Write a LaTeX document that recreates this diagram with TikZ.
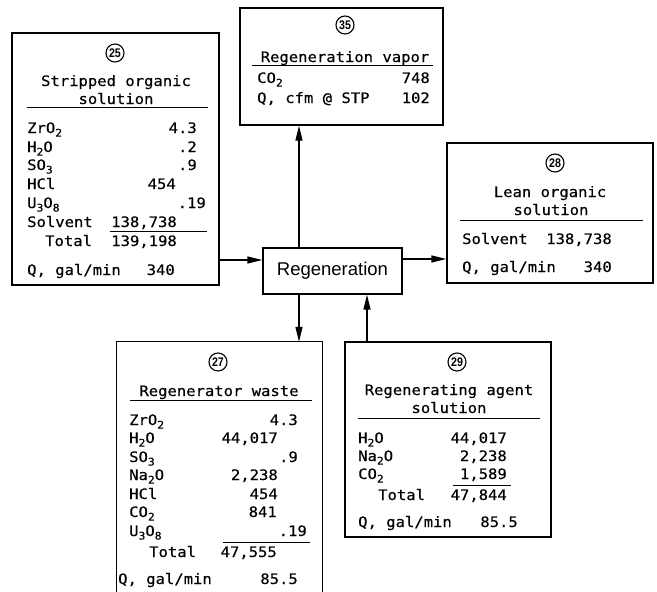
\documentclass[tikz,border=0pt]{standalone}
\usepackage{fontspec}
\usepackage{tikz}
\usetikzlibrary{arrows.meta, positioning, calc}
\newfontfamily\twfont[FakeStretch=1.08, FakeBold=0.4]{DejaVu Sans Mono}
\newfontfamily\labelfont{Liberation Sans}
\newfontfamily\numfont[FakeStretch=0.85]{Liberation Sans}
\newcommand{\chsub}[1]{\raisebox{-0.45ex}{\fontsize{10.5}{10}\selectfont #1}}

\begin{document}
\begin{tikzpicture}[x=1pt, y=-1pt,
    box/.style={draw, line width=1.3pt, inner sep=0pt},
    txt/.style={font=\twfont\fontsize{14.4}{16}\selectfont, inner sep=0pt, anchor=base west},
    val/.style={txt, anchor=base east},
    head/.style={txt, anchor=base},
    num/.style={circle, draw, line width=1.1pt, minimum size=18pt, inner sep=0pt, font=\numfont\fontsize{12.5}{12}\selectfont\bfseries},
    rl/.style={line width=1pt},
    arr/.style={line width=1.3pt, -{Triangle[length=15pt, width=7pt]}}]
    \useasboundingbox (0,0) rectangle (657,592);
    \node[box, minimum width=207pt, minimum height=252pt] (b25) at (115.5,159) {};
    \node[box, minimum width=203pt, minimum height=117pt] (b35) at (341.5,66.5) {};
    \node[box, minimum width=206pt, minimum height=140pt] (b28) at (550,213) {};
    \node[minimum width=205pt, minimum height=250pt, inner sep=0pt] (b27) at (219.5,467) {};
    \draw[line width=1.3pt] (b27.south west) -- (b27.north west) -- (b27.north east) -- (b27.south east);
    \node[box, minimum width=206pt, minimum height=195pt] (b29) at (448,439.5) {};
    \node[box, minimum width=139pt, minimum height=46pt, font=\labelfont\fontsize{18.5}{20}\selectfont] (regen) at (332.5,271) {Regeneration};
    % stream 25
    \node[num] (n25) at (115,53) {25};
    \node[head] (h25a) at (116,86) {Stripped organic};
    \node[head] (h25b) at (116,104) {solution};
    \draw[rl] (27,107) -- (208,107);
    \foreach \n/\v/\x/\y [count=\i] in {ZrO\chsub{2}/4.3/197/133, H\chsub{2}O/.2/197/152, SO\chsub{3}/.9/197/170, HCl/454/176/189, U\chsub{3}O\chsub{8}/.19/206/208, {Solvent/{138,738}/177/227}} {
        \node[txt] (r25n\i) at (27,\y) {\n};
        \node[val] (r25v\i) at (\x,\y) {\v};
    }
    \draw[rl] (110,231) -- (207,231);
    \node[txt] (t25n) at (45,246) {Total};
    \node[val] (t25v) at (177,246) {139,198};
    \node[txt] (q25n) at (27,275) {Q, gal/min};
    \node[val] (q25v) at (175,275) {340};
    % stream 35
    \node[num] (n35) at (345,25) {35};
    \node[head] (h35) at (345,62) {Regeneration vapor};
    \draw[rl] (252,65) -- (433,65);
    \node[txt] (r35n1) at (257,83) {CO\chsub{2}};
    \node[val] (r35v1) at (430,83) {748};
    \node[txt] (q35n) at (257,103) {Q, cfm @ STP};
    \node[val] (q35v) at (430,103) {102};
    % stream 28
    \node[num] (n28) at (555,163) {28};
    \node[head] (h28a) at (550,197) {Lean organic};
    \node[head] (h28b) at (551,215) {solution};
    \draw[rl] (460,220) -- (643,220);
    \node[txt] (r28n1) at (462,244) {Solvent};
    \node[val] (r28v1) at (612,244) {138,738};
    \node[txt] (q28n) at (462,272) {Q, gal/min};
    \node[val] (q28v) at (612,272) {340};
    % stream 27
    \node[num] (n27) at (218,362) {27};
    \node[head] (h27) at (219,396) {Regenerator waste};
    \draw[rl] (130,400) -- (312,400);
    \foreach \n/\v/\x/\y [count=\i] in {ZrO\chsub{2}/4.3/298/425, {H\chsub{2}O/{44,017}/278/443}, SO\chsub{3}/.9/298/462, {Na\chsub{2}O/{2,238}/278/480}, HCl/454/278/499, CO\chsub{2}/841/277/517, U\chsub{3}O\chsub{8}/.19/307/536} {
        \node[txt] (r27n\i) at (129,\y) {\n};
        \node[val] (r27v\i) at (\x,\y) {\v};
    }
    \draw[rl] (223,542) -- (310,542);
    \node[txt] (t27n) at (149,557) {Total};
    \node[val] (t27v) at (277,557) {47,555};
    \node[txt] (q27n) at (118,584) {Q, gal/min};
    \node[val] (q27v) at (298,584) {85.5};
    % stream 29
    \node[num] (n29) at (457,362) {29};
    \node[head] (h29a) at (449,395) {Regenerating agent};
    \node[head] (h29b) at (449,413) {solution};
    \draw[rl] (358,418) -- (540,418);
    \foreach \n/\v/\y [count=\i] in {{H\chsub{2}O/{44,017}/443}, {Na\chsub{2}O/{2,238}/461}, {CO\chsub{2}/{1,589}/479}} {
        \node[txt] (r29n\i) at (358,\y) {\n};
        \node[val] (r29v\i) at (507,\y) {\v};
    }
    \draw[rl] (453,485) -- (511,485);
    \node[txt] (t29n) at (378,500) {Total};
    \node[val] (t29v) at (507,500) {47,844};
    \node[txt] (q29n) at (358,527) {Q, gal/min};
    \node[val] (q29v) at (518,527) {85.5};
    % flows
    \coordinate (inL) at ([yshift=11pt]regen.west);
    \draw[arr] (b25.east |- inL) -- (inL);
    \coordinate (outR) at ([yshift=12pt]regen.east);
    \draw[arr] (outR) -- (outR -| b28.west);
    \coordinate (outU) at ([xshift=-33.5pt]regen.north);
    \draw[arr] (outU) -- (outU |- b35.south);
    \coordinate (outD) at ([xshift=-33.5pt]regen.south);
    \draw[arr] (outD) -- (outD |- b27.north);
    \coordinate (inB) at ([xshift=34.5pt]regen.south);
    \draw[arr] (inB |- b29.north) -- (inB);
\end{tikzpicture}
\end{document}
